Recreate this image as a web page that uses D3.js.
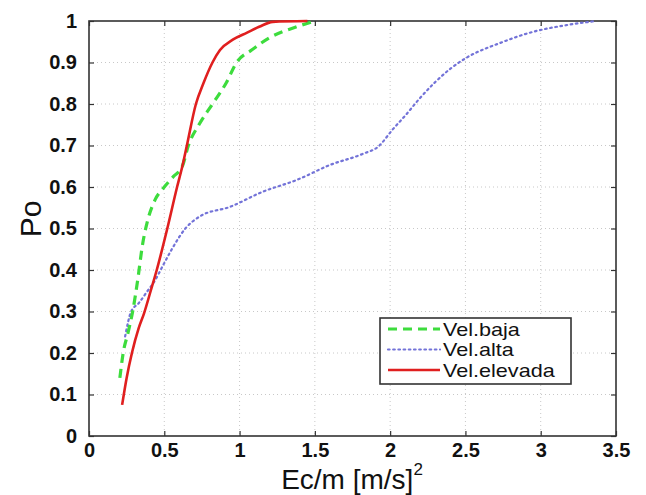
<!DOCTYPE html>
<html><head><meta charset="utf-8">
<script src="https://cdn.jsdelivr.net/npm/d3@7"></script>
<style>
body{margin:0;background:#fff;}
svg{display:block;}
text{font-family:Arial,"Liberation Sans",Helvetica,sans-serif;fill:#111;}
</style></head>
<body><svg id="c" width="646" height="495"></svg>
<script>
const xTicks = [0, 0.5, 1, 1.5, 2, 2.5, 3, 3.5];
const xTickLabels = ["0", "0.5", "1", "1.5", "2", "2.5", "3", "3.5"];
const yTicks = [0, 0.1, 0.2, 0.3, 0.4, 0.5, 0.6, 0.7, 0.8, 0.9, 1];
const yTickLabels = ["0", "0.1", "0.2", "0.3", "0.4", "0.5", "0.6", "0.7", "0.8", "0.9", "1"];
const seriesNames = ["Vel.baja", "Vel.alta", "Vel.elevada"];

const bajaX = [0.205, 0.227, 0.26, 0.29, 0.325, 0.355, 0.39, 0.44, 0.5, 0.56, 0.62, 0.66, 0.73, 0.82, 0.91, 0.98, 1.08, 1.2, 1.37, 1.5];
const bajaY = [0.14, 0.2, 0.25, 0.3, 0.38, 0.46, 0.52, 0.57, 0.6, 0.625, 0.65, 0.7, 0.75, 0.8, 0.85, 0.9, 0.93, 0.96, 0.985, 1.0];

const altaX = [0.24, 0.28, 0.33, 0.38, 0.44, 0.49, 0.55, 0.64, 0.74, 0.935, 1.15, 1.38, 1.6, 1.82, 1.92, 2.02, 2.1, 2.2, 2.3, 2.4, 2.5, 2.73, 2.94, 3.17, 3.37];
const altaY = [0.24, 0.3, 0.32, 0.345, 0.376, 0.41, 0.45, 0.5, 0.53, 0.552, 0.588, 0.617, 0.653, 0.68, 0.697, 0.74, 0.772, 0.815, 0.853, 0.885, 0.91, 0.947, 0.973, 0.99, 1.0];

const elevX = [0.22, 0.25, 0.285, 0.33, 0.365, 0.41, 0.45, 0.52, 0.585, 0.62, 0.65, 0.71, 0.76, 0.82, 0.87, 0.955, 1.05, 1.13, 1.22, 1.45];
const elevY = [0.075, 0.14, 0.2, 0.26, 0.295, 0.35, 0.4, 0.5, 0.6, 0.65, 0.7, 0.8, 0.85, 0.9, 0.93, 0.955, 0.972, 0.986, 0.998, 1.0];

const styles = [
  {color:"#3ddc3d", width:3.2, dash:"9,6"},
  {color:"#7373d8", width:2.2, dash:"1.6,3.6"},
  {color:"#e01f1f", width:2.6, dash:null}
];

const svg = d3.select("#c");
const L = 89, R = 616, T = 21, B = 436;
const x = d3.scaleLinear().domain([0, 3.5]).range([L, R]);
const y = d3.scaleLinear().domain([0, 1]).range([B, T]);

// grid
const g = svg.append("g");
g.selectAll(".gx").data(xTicks.slice(1, -1)).join("line")
  .attr("x1", d => x(d)).attr("x2", d => x(d)).attr("y1", T).attr("y2", B)
  .attr("stroke", "#c8c8c8").attr("stroke-width", 1).attr("stroke-dasharray", "1,3");
g.selectAll(".gy").data(yTicks.slice(1, -1)).join("line")
  .attr("y1", d => y(d)).attr("y2", d => y(d)).attr("x1", L).attr("x2", R)
  .attr("stroke", "#c8c8c8").attr("stroke-width", 1).attr("stroke-dasharray", "1,3");

// axes
const xAxisB = d3.axisBottom(x).tickValues(xTicks).tickSize(-5).tickPadding(7).tickFormat((d,i) => xTickLabels[i]);
const xAxisT = d3.axisTop(x).tickValues(xTicks).tickSize(-5).tickFormat("");
const yAxisL = d3.axisLeft(y).tickValues(yTicks).tickSize(-5).tickPadding(12).tickFormat((d,i) => yTickLabels[i]);
const yAxisR = d3.axisRight(y).tickValues(yTicks).tickSize(-5).tickFormat("");

function styleAxis(sel){
  sel.select(".domain").remove();
  sel.selectAll(".tick line").attr("stroke", "#333").attr("stroke-width", 1.2);
  sel.selectAll(".tick text").style("font-size", "20px").style("font-weight", "bold").attr("fill", "#1a1a1a");
}
svg.append("g").attr("transform", `translate(0,${B})`).call(xAxisB).call(styleAxis);
svg.append("g").attr("transform", `translate(0,${T})`).call(xAxisT).call(styleAxis);
svg.append("g").attr("transform", `translate(${L},0)`).call(yAxisL).call(styleAxis);
svg.append("g").attr("transform", `translate(${R},0)`).call(yAxisR).call(styleAxis);

svg.append("rect").attr("x", L).attr("y", T).attr("width", R - L).attr("height", B - T)
  .attr("fill", "none").attr("stroke", "#333").attr("stroke-width", 1.6);

// series
const series = [
  bajaX.map((v,i) => [v, bajaY[i]]),
  altaX.map((v,i) => [v, altaY[i]]),
  elevX.map((v,i) => [v, elevY[i]])
];
const line = d3.line().x(d => x(d[0])).y(d => y(d[1])).curve(d3.curveMonotoneX);
const drawOrder = [1, 0, 2];
drawOrder.forEach(k => {
  svg.append("path").datum(series[k]).attr("d", line)
    .attr("fill", "none").attr("stroke", styles[k].color)
    .attr("stroke-width", styles[k].width)
    .attr("stroke-dasharray", styles[k].dash)
    .attr("stroke-linecap", k === 1 ? "round" : "butt")
    .attr("stroke-linejoin", "round");
});

// labels
svg.append("text").attr("x", 352).attr("y", 489).attr("text-anchor", "middle")
  .style("font-size", "28px")
  .html('Ec/m [m/s]<tspan dy="-14" style="font-size:17px">2</tspan>');
svg.append("text").attr("transform", "translate(41,219) rotate(-90)").attr("text-anchor", "middle")
  .style("font-size", "30px").text("Po");

// legend
const lg = svg.append("g");
lg.append("rect").attr("x", 380).attr("y", 318).attr("width", 191).attr("height", 66)
  .attr("fill", "#fff").attr("stroke", "#333").attr("stroke-width", 1.6);
const rowY = [329, 349.5, 370];
seriesNames.forEach((name, k) => {
  lg.append("line").attr("x1", 388).attr("x2", 440).attr("y1", rowY[k]).attr("y2", rowY[k])
    .attr("stroke", styles[k].color).attr("stroke-width", styles[k].width)
    .attr("stroke-dasharray", styles[k].dash)
    .attr("stroke-linecap", k === 1 ? "round" : "butt");
  lg.append("text").attr("transform", `translate(443,${rowY[k] + 6.5}) scale(1.2,1)`)
    .style("font-size", "18px").text(name);
});
</script></body></html>
